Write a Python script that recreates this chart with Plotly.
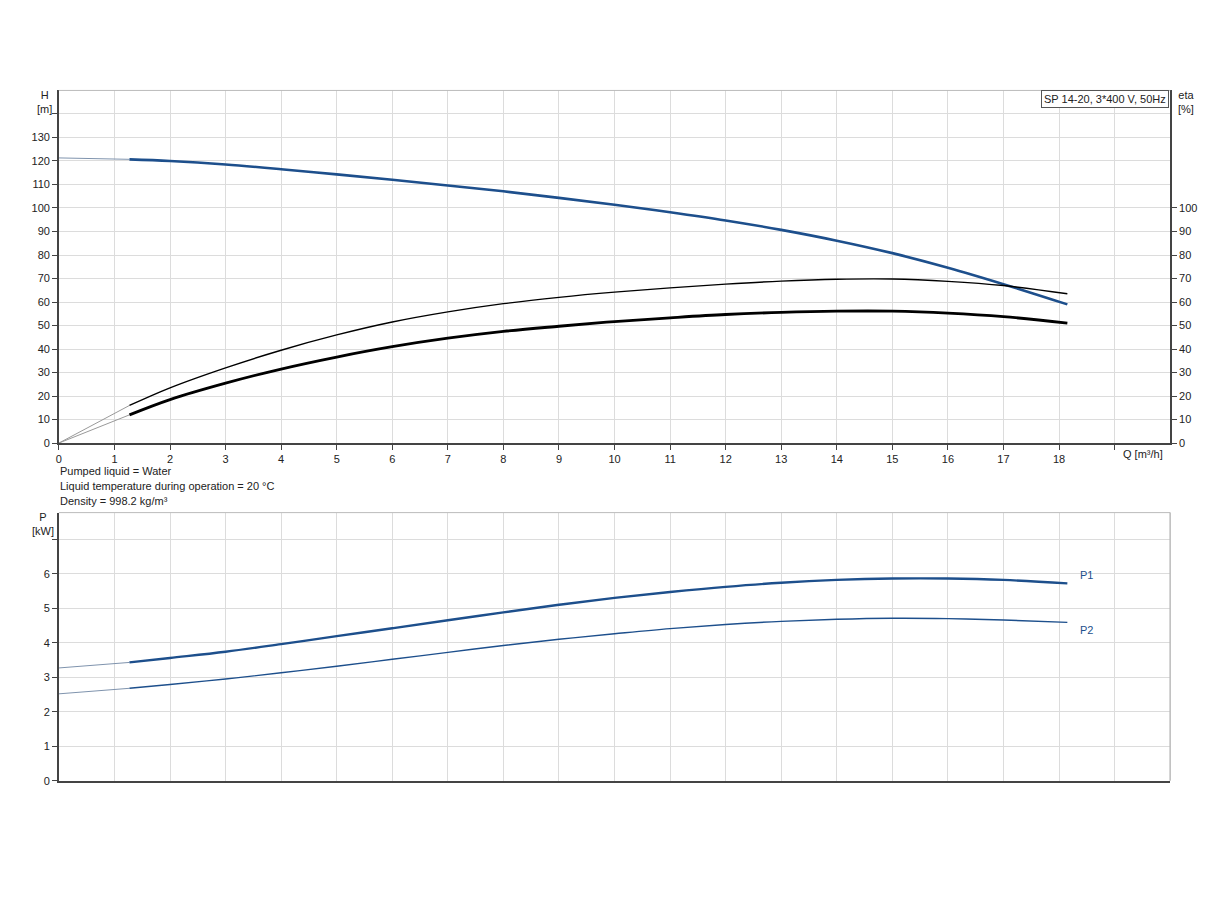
import plotly.graph_objects as go

# pump curve values
q = [1.27, 2, 3, 4, 5, 6, 7, 8, 9, 10, 11, 12, 13, 14, 15, 16, 17, 18.15]
head = [120.7, 120.0, 118.5, 116.5, 114.3, 112.0, 109.6, 107.1, 104.3, 101.4,
        98.2, 94.7, 90.7, 86.1, 80.8, 74.6, 67.6, 59.0]
eta_total = [16.0, 23.5, 32.0, 39.5, 46.0, 51.5, 55.8, 59.3, 62.0, 64.2,
             66.0, 67.6, 68.9, 69.7, 69.8, 68.8, 67.0, 63.5]
eta_pump = [12.0, 18.5, 25.5, 31.5, 36.6, 41.0, 44.6, 47.5, 49.7, 51.7,
            53.3, 54.7, 55.6, 56.1, 56.1, 55.3, 53.8, 51.0]
p1 = [3.43, 3.56, 3.74, 3.96, 4.19, 4.42, 4.65, 4.88, 5.10, 5.30,
      5.47, 5.62, 5.74, 5.82, 5.86, 5.86, 5.82, 5.72]
p2 = [2.68, 2.79, 2.95, 3.13, 3.32, 3.52, 3.72, 3.92, 4.10, 4.26,
      4.41, 4.53, 4.62, 4.68, 4.71, 4.70, 4.66, 4.59]

# extrapolated parts below the first point
q_ext = [0, 1.27]
head_ext = [121.3, 120.7]
eta_total_ext = [0, 16.0]
eta_pump_ext = [0, 12.0]
p1_ext = [3.27, 3.43]
p2_ext = [2.52, 2.68]

x_ticks = list(range(0, 20))
x_labels = [str(v) for v in range(0, 19)] + [""]
h_ticks = list(range(0, 150, 10))
h_labels = [str(v) for v in range(0, 140, 10)] + [""]
eta_ticks = list(range(0, 110, 10))
p_ticks = list(range(0, 8))
p_labels = [str(v) for v in range(0, 7)] + [""]

BLUE = "#1d4f8c"
GRID = "#dcdcdc"
AXIS = "#444444"
FONT = dict(family="Liberation Sans, Arial, sans-serif", size=11, color="#222222")

W, H, OFF = 1224, 900, 8  # page body margin shifts the plot by a few pixels


def px(x):
    return (x - OFF) / W


def py(y):
    return 1 - (y - OFF) / H


fig = go.Figure()

# top chart: head and efficiency
fig.add_trace(go.Scatter(x=q_ext, y=head_ext, mode="lines",
                         line=dict(color="#7f93ad", width=1), xaxis="x", yaxis="y"))
fig.add_trace(go.Scatter(x=q, y=head, mode="lines", line_shape="spline",
                         line=dict(color=BLUE, width=2.6), xaxis="x", yaxis="y"))
fig.add_trace(go.Scatter(x=q_ext, y=eta_total_ext, mode="lines",
                         line=dict(color="#999999", width=1), xaxis="x", yaxis="y2"))
fig.add_trace(go.Scatter(x=q_ext, y=eta_pump_ext, mode="lines",
                         line=dict(color="#999999", width=1), xaxis="x", yaxis="y2"))
fig.add_trace(go.Scatter(x=q, y=eta_total, mode="lines", line_shape="spline",
                         line=dict(color="black", width=1.4), xaxis="x", yaxis="y2"))
fig.add_trace(go.Scatter(x=q, y=eta_pump, mode="lines", line_shape="spline",
                         line=dict(color="black", width=2.8), xaxis="x", yaxis="y2"))

# bottom chart: power
fig.add_trace(go.Scatter(x=q_ext, y=p1_ext, mode="lines",
                         line=dict(color="#7f93ad", width=1), xaxis="x2", yaxis="y3"))
fig.add_trace(go.Scatter(x=q_ext, y=p2_ext, mode="lines",
                         line=dict(color="#7f93ad", width=1), xaxis="x2", yaxis="y3"))
fig.add_trace(go.Scatter(x=q, y=p1, mode="lines", line_shape="spline",
                         line=dict(color=BLUE, width=2.4), xaxis="x2", yaxis="y3"))
fig.add_trace(go.Scatter(x=q, y=p2, mode="lines", line_shape="spline",
                         line=dict(color=BLUE, width=1.4), xaxis="x2", yaxis="y3"))

xdom = [px(56), px(1170)]
top_dom = [py(446), py(91)]
bot_dom = [py(786), py(516)]

axis_common = dict(showgrid=True, gridcolor=GRID, gridwidth=1, zeroline=False,
                   showline=True, linecolor=AXIS, linewidth=1.5,
                   ticks="outside", ticklen=5, tickcolor=AXIS, tickfont=FONT)

fig.update_layout(
    width=W, height=H,
    margin=dict(l=0, r=0, t=0, b=0),
    paper_bgcolor="white", plot_bgcolor="white",
    showlegend=False,
    font=FONT,
    xaxis=dict(domain=xdom, range=[0, 20], anchor="y", tickmode="array",
               tickvals=x_ticks, ticktext=x_labels, **axis_common),
    yaxis=dict(domain=top_dom, range=[0, 150], anchor="x", tickmode="array",
               tickvals=h_ticks, ticktext=h_labels, **axis_common),
    yaxis2=dict(overlaying="y", side="right", range=[0, 150], anchor="x",
                tickmode="array", tickvals=eta_ticks, showgrid=False,
                zeroline=False, showline=True, linecolor=AXIS, linewidth=1.5,
                ticks="outside", ticklen=5, tickcolor=AXIS, tickfont=FONT),
    xaxis2=dict(domain=xdom, range=[0, 20], anchor="y3", tickmode="array",
                tickvals=list(range(0, 21)), showticklabels=False,
                showgrid=True, gridcolor=GRID, zeroline=False,
                showline=True, linecolor=AXIS, linewidth=1.5, ticks=""),
    yaxis3=dict(domain=bot_dom, range=[0, 7.77], anchor="x2", tickmode="array",
                tickvals=p_ticks, ticktext=p_labels, **axis_common),
)

# light frame on the open sides
fig.add_shape(type="line", xref="paper", yref="paper", x0=xdom[0], x1=xdom[1],
              y0=top_dom[1], y1=top_dom[1], line=dict(color="#bbbbbb", width=1))
fig.add_shape(type="line", xref="paper", yref="paper", x0=xdom[0], x1=xdom[1],
              y0=bot_dom[1], y1=bot_dom[1], line=dict(color="#bbbbbb", width=1))
fig.add_shape(type="line", xref="paper", yref="paper", x0=xdom[1], x1=xdom[1],
              y0=bot_dom[0], y1=bot_dom[1], line=dict(color="#bbbbbb", width=1.5))

notes = [
    dict(x=px(42), y=py(103), text="H<br>[m]", xanchor="center"),
    dict(x=px(1186), y=py(103), text="eta<br>[%]", xanchor="center"),
    dict(x=px(40), y=py(527), text="P<br>[kW]", xanchor="center"),
    dict(x=px(1165), y=py(457), text="Q [m³/h]", xanchor="right"),
    dict(x=px(55), y=py(474), text="Pumped liquid = Water", xanchor="left"),
    dict(x=px(55), y=py(489),
         text="Liquid temperature during operation = 20 °C", xanchor="left"),
    dict(x=px(55), y=py(504), text="Density = 998.2 kg/m³", xanchor="left"),
]
for n in notes:
    fig.add_annotation(xref="paper", yref="paper", showarrow=False,
                       yanchor="middle", font=FONT, align="center"
                       if n["xanchor"] == "center" else n["xanchor"], **n)

fig.add_annotation(xref="paper", yref="paper", x=px(1169), y=py(91),
                   xanchor="right", yanchor="top", showarrow=False,
                   text="SP 14-20, 3*400 V, 50Hz", font=FONT,
                   bordercolor="#555555", borderwidth=1, borderpad=2,
                   bgcolor="white")

fig.add_annotation(xref="x2", yref="y3", x=18.35, y=p1[-1], text="P1",
                   xanchor="left", yanchor="bottom", showarrow=False,
                   font=dict(family=FONT["family"], size=11, color=BLUE))
fig.add_annotation(xref="x2", yref="y3", x=18.35, y=p2[-1], text="P2",
                   xanchor="left", yanchor="top", showarrow=False,
                   font=dict(family=FONT["family"], size=11, color=BLUE))

fig.write_html("out.html")
